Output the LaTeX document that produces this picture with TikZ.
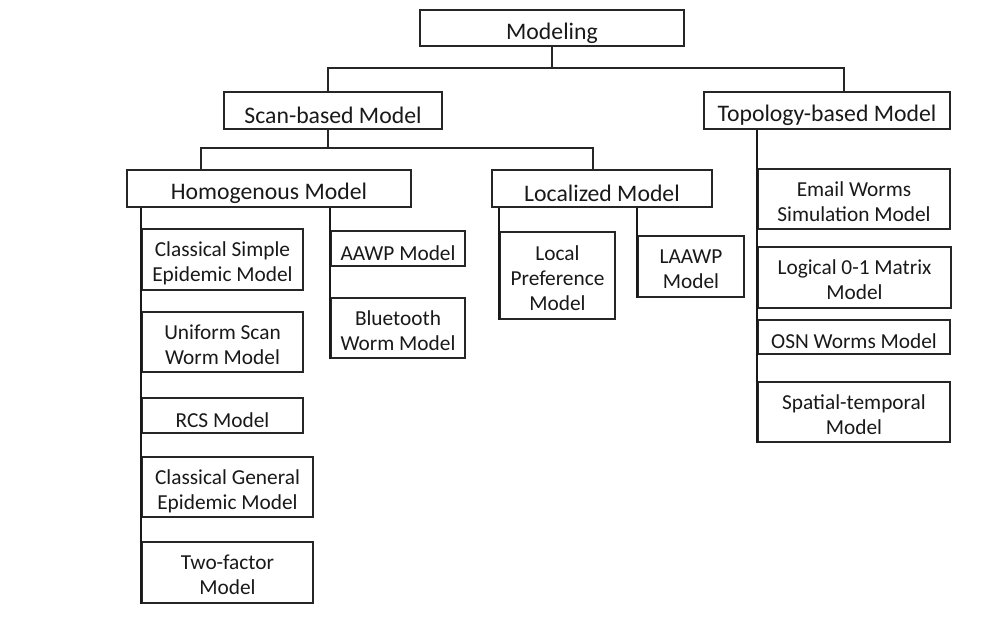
\documentclass[tikz,border=0pt]{standalone}
\usepackage{fontspec}
\setmainfont{Carlito}
\usetikzlibrary{calc}
% multi-line label, first row a little taller
\newcommand\stack[1]{\begin{tabular}{@{}c@{}}\rule{0pt}{20pt}#1\end{tabular}}
\tikzset{
  box/.style={draw=black!85,line width=1.1pt,inner sep=0pt,align=center,
    font=\fontsize{16}{18.75}\selectfont,text=black!90,
    execute at begin node={\rule{0pt}{1.11em}}},
  head/.style={box,font=\fontsize{17.8}{20}\selectfont},
  link/.style={draw=black!85,line width=1.1pt},
  spine/.style={draw=black!90,line width=1.7pt}
}
\begin{document}
\begin{tikzpicture}[x=0.75pt,y=-0.75pt]
  \useasboundingbox (0,0) rectangle (998,631);
  % top levels
  \node[head,minimum width=198pt,minimum height=27pt] (model) at (552,28) {Modeling};
  \node[head,minimum width=163.5pt,minimum height=27.75pt] (scan) at (333,110.5) {Scan-based Model};
  \node[head,minimum width=184.5pt,minimum height=27.75pt] (topo) at (827,110.5) {Topology-based Model};
  \node[head,minimum width=213pt,minimum height=27.75pt] (homo) at (269,188.5) {Homogenous Model};
  \node[head,minimum width=165pt,minimum height=27.75pt] (local) at (602,188.5) {Localized Model};
  % homogenous branch
  \node[box,minimum width=120.75pt,minimum height=45.75pt] (csimple) at (222.5,259.5) {\stack{Classical Simple\\Epidemic Model}};
  \node[box,minimum width=120.75pt,minimum height=45pt] (uniform) at (222.5,342) {\stack{Uniform Scan\\Worm Model}};
  \node[box,minimum width=120.75pt,minimum height=26.25pt] (rcs) at (222.5,415.5) {RCS Model};
  \node[box,minimum width=128.25pt,minimum height=45pt] (cgeneral) at (227.5,487) {\stack{Classical General\\Epidemic Model}};
  \node[box,minimum width=128.25pt,minimum height=45.75pt] (twofac) at (227.5,572.5) {\stack{Two-factor\\Model}};
  \node[box,minimum width=100.5pt,minimum height=26.25pt] (aawp) at (398,248.5) {AAWP Model};
  \node[box,minimum width=100.5pt,minimum height=45pt] (bluetooth) at (398,328) {\stack{Bluetooth\\Worm Model}};
  % localized branch
  \node[box,minimum width=86.25pt,minimum height=65.25pt] (lpref) at (557.5,275.5) {\stack{Local\\Preference\\Model}};
  \node[box,minimum width=79.5pt,minimum height=45.75pt] (laawp) at (691,266.5) {\stack{LAAWP\\Model}};
  % topology branch
  \node[box,minimum width=144pt,minimum height=45pt] (email) at (854,199) {\stack{Email Worms\\Simulation Model}};
  \node[box,minimum width=144.75pt,minimum height=45.75pt] (logical) at (854.5,277.5) {\stack{Logical 0-1 Matrix\\Model}};
  \node[box,minimum width=144pt,minimum height=25.5pt] (osn) at (854,337) {OSN Worms Model};
  \node[box,minimum width=144pt,minimum height=45pt] (spatial) at (854,412) {\stack{Spatial-temporal\\Model}};
  % buses
  \coordinate (topbus) at (0,68);
  \coordinate (scanbus) at (0,148);
  \draw[link] (model.south) -- (model.south |- topbus);
  \draw[link] ($(scan.north)+(-5,0)$) |- ($(topo.north |- topbus)+(17,0)$) -- ($(topo.north)+(17,0)$);
  \draw[link] ($(scan.south)+(-5,0)$) -- ($(scan.south |- scanbus)+(-5,0)$);
  \draw[link] ($(homo.north)+(-68,0)$) |- ($(local.north |- scanbus)+(-9,0)$) -- ($(local.north)+(-9,0)$);
  % spines
  \draw[spine] (csimple.west |- homo.south) -- (twofac.south west);
  \draw[spine] (aawp.west |- homo.south) -- (bluetooth.south west);
  \draw[spine] (lpref.west |- local.south) -- (lpref.south west);
  \draw[spine] (laawp.west |- local.south) -- (laawp.south west);
  \draw[spine] (email.west |- topo.south) -- (spatial.south west);
\end{tikzpicture}
\end{document}
